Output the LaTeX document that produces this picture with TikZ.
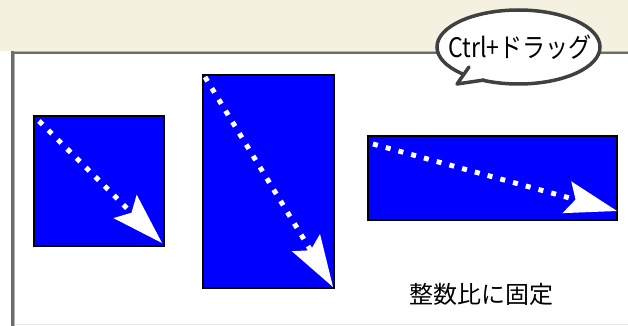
\documentclass[tikz,border=0pt]{standalone}
\usepackage{fontspec}
\newfontfamily\jpfont{Noto Sans CJK JP}
\usetikzlibrary{arrows.meta,shapes.geometric}
\definecolor{cream}{HTML}{F4F1E0}
\definecolor{framedark}{HTML}{6C6C6C}
\definecolor{framelight}{HTML}{B4B4B4}
\definecolor{bottomline}{HTML}{E6E6E6}
\definecolor{bubblegray}{HTML}{404040}
\definecolor{pureblue}{HTML}{0000FF}
\begin{document}
\begin{tikzpicture}[x=1pt,y=-1pt,
  box/.style={draw=black, line width=2pt, fill=pureblue, inner sep=0pt, outer sep=0pt},
  dotarrow/.style={white, line width=5pt, dash pattern=on 5pt off 8.2pt,
    -{Stealth[length=52pt,width=33pt,inset=9pt,line width=0pt]}},
  bubble/.style={ellipse, draw=bubblegray, line width=3.5pt, fill=white,
    minimum width=163pt, minimum height=74pt, inner sep=0pt},
  tail/.style={draw=bubblegray, line width=3.5pt, line join=round, line cap=round},
  label/.style={font=\jpfont\fontsize{24}{24}\selectfont, inner sep=0pt}
]
\useasboundingbox (0,0) rectangle (628,326);
% window background
\fill[white] (0,0) rectangle (628,326);
\fill[cream] (0,0) rectangle (628,51);
\fill[framelight] (11,51) rectangle (628,52);
\fill[framedark] (11,52) rectangle (628,54);
\fill[framedark] (11,51) rectangle (14,326);
\fill[framelight] (14,54) rectangle (15,326);
\fill[bottomline] (15,324) rectangle (628,325);
% rectangles
\node[box, minimum width=130pt, minimum height=130pt] (r1) at (99,181) {};
\node[box, minimum width=131pt, minimum height=213pt] (r2) at (268.5,181.5) {};
\node[box, minimum width=249pt, minimum height=84pt] (r3) at (492.5,178) {};
% arrows
\coordinate (s1) at (39,121);
\coordinate (e1) at (162,243);
\coordinate (s2) at (205,77);
\coordinate (e2) at (333,287);
\coordinate (s3) at (373,144);
\coordinate (e3) at (617,211);
\draw[dotarrow] (s1) -- (e1);
\draw[dotarrow] (s2) -- (e2);
\draw[dotarrow] (s3) -- (e3);
% speech bubble
\node[bubble] (b) at (518.5,47) {};
\coordinate (ta) at (469,67);
\coordinate (tt) at (457,84);
\coordinate (tb) at (484,80);
\fill[white] (ta) -- (tt) -- (tb) -- cycle;
\draw[tail] (ta) -- (tt) -- (tb);
\node[label] (bt) at (520,47) {\scalebox{0.96}[1.12]{Ctrl+ドラッグ}};
% caption
\node[label] (cap) at (481,294) {整数比に固定};
\end{tikzpicture}
\end{document}
